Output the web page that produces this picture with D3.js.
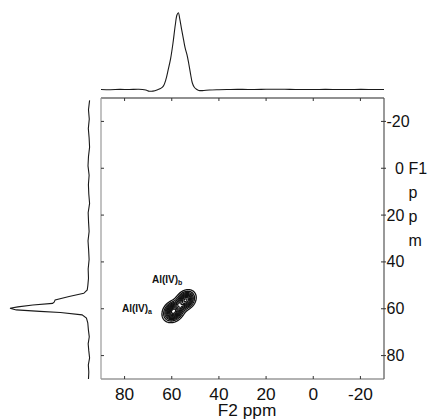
<!DOCTYPE html>
<meta charset="utf-8">
<style>
body { margin: 0; background: #fff; }
text { font-family: "Liberation Sans", Arial, Helvetica, sans-serif; fill: #111; }
.spec { fill: none; stroke: #1a1a1a; stroke-width: 1.1; }
.contour { fill: none; stroke: #111; stroke-width: 1.3; }
.lbl { font-weight: bold; font-size: 10px; }
.ax { font-size: 16px; }
</style>
<body>
<script src="https://d3js.org/d3.v7.min.js"></script>
<script>

// axis ticks (ppm)
var f2Ticks = [80, 60, 40, 20, 0, -20];
var f1Ticks = [-20, 0, 20, 40, 60, 80];

// F2 projection (top): ppm, normalised intensity
var topPpm = [90, 86, 82, 78, 74, 71, 69.5, 68, 66, 64.5, 63.5, 62.5, 61.5, 60.5, 59.5, 58.5, 57.8, 57.2, 56.6, 55.8,
              55, 54.3, 53.5, 52.8, 52, 51.3, 50.5, 49.5, 48.5, 47, 44, 40, 35, 30, 25, 20, 15, 10, 5, 0,
              -5, -10, -15, -20, -25, -30];
var topInt = [0.003, 0.0, 0.004, 0.002, 0.006, -0.005, -0.02, -0.018, 0.0, 0.02, 0.05, 0.13, 0.26, 0.40, 0.6, 0.84, 0.97, 1.0, 0.92, 0.78,
              0.65, 0.54, 0.45, 0.34, 0.2, 0.09, 0.035, 0.005, -0.01, -0.012, -0.004, 0.0, 0.003, 0.004, 0.003, 0.005, 0.006, 0.004, 0.003, 0.002,
              0.004, 0.003, 0.002, 0.004, 0.003, 0.002];

// F1 projection (left): ppm, normalised intensity
var leftPpm = [-29, -25, -21, -17, -13, -9, -5, -1, 3, 7, 11, 15, 19, 23, 27, 31, 35, 39, 43, 47,
               50, 52, 53.4, 54.8, 56.2, 57.2, 57.7, 58.4, 59.2, 59.8, 60.5, 61.1, 61.6, 62.6, 64, 66, 69, 72, 75, 78,
               81, 84, 87, 90];
var leftInt = [-0.01, 0.004, -0.006, 0.006, -0.004, -0.01, 0.004, 0.01, -0.004, 0.005, 0.0, -0.01, 0.008, 0.003, -0.004, 0.01, 0.002, -0.004, 0.008, 0.004,
               0.012, 0.02, 0.064, 0.25, 0.427, 0.44, 0.46, 0.71, 0.9, 1.0, 0.92, 0.62, 0.36, 0.085, 0.03, 0.013, 0.005, -0.006, 0.008, 0.0,
               -0.01, 0.006, 0.0, 0.004];

// 2D cross peaks: F2 centre, F1 centre, amplitude, widths (ppm) along and across the diagonal
var peakNames = ["Al(IV)a", "Al(IV)b"];
var peakF2 = [59.2, 54.0];
var peakF1 = [61.0, 56.2];
var peakAmp = [1.0, 0.85];
var peakWAlong = [2.4, 2.3];
var peakWAcross = [1.9, 1.8];
var contourLevels = [0.08, 0.16, 0.25, 0.34, 0.43, 0.52, 0.62, 0.72, 0.82, 0.92];

var width = 438, height = 419;

var svg = d3.select("body").append("svg")
    .attr("width", width)
    .attr("height", height);

var x = d3.scaleLinear().domain([90, -30]).range([101, 384]);
var y = d3.scaleLinear().domain([-30, 90]).range([98, 379]);

// projection intensity scales
var topY = d3.scaleLinear().domain([0, 1]).range([89.7, 12.7]);
var leftX = d3.scaleLinear().domain([0, 1]).range([88.8, 10]);

// frame, each side a slightly different grey like the scan
var x0 = x.range()[0], x1 = x.range()[1], y0 = y.range()[0], y1 = y.range()[1];
var sides = [
    [x0, y0, x1, y0, "#222"],
    [x1, y0, x1, y1, "#555"],
    [x0, y1, x1, y1, "#666"],
    [x0, y0, x0, y1, "#999"]
];
svg.selectAll("line.frame")
    .data(sides)
  .enter().append("line")
    .attr("class", "frame")
    .attr("x1", d => d[0]).attr("y1", d => d[1])
    .attr("x2", d => d[2]).attr("y2", d => d[3])
    .attr("stroke", d => d[4])
    .attr("stroke-width", 1.2);

// ticks: top, bottom, left inward; right crosses the frame
svg.selectAll("line.tt")
    .data(f2Ticks)
  .enter().append("line")
    .attr("x1", d => x(d)).attr("x2", d => x(d))
    .attr("y1", y0).attr("y2", y0 + 3)
    .attr("stroke", "#333");
svg.selectAll("line.bt")
    .data(f2Ticks)
  .enter().append("line")
    .attr("x1", d => x(d)).attr("x2", d => x(d))
    .attr("y1", y1).attr("y2", y1 - 3)
    .attr("stroke", "#333");
svg.selectAll("line.lt")
    .data(f1Ticks)
  .enter().append("line")
    .attr("y1", d => y(d)).attr("y2", d => y(d))
    .attr("x1", x0).attr("x2", x0 + 3)
    .attr("stroke", "#333");
svg.selectAll("line.rt")
    .data(f1Ticks)
  .enter().append("line")
    .attr("y1", d => y(d)).attr("y2", d => y(d))
    .attr("x1", x1 - 3).attr("x2", x1 + 2)
    .attr("stroke", "#333");

// bottom lettering in the scan is a little wider than Liberation Sans
function place(sel, fx, fy, sx) {
    sel.attr("transform", (d, i) => "translate(" + fx(d, i) + "," + fy(d, i) + ") scale(" + sx + ",1)");
}

svg.selectAll("text.xl")
    .data(f2Ticks)
  .enter().append("text")
    .attr("class", "ax")
    .attr("text-anchor", "middle")
    .call(place, d => x(d), () => 399.5, 1.08)
    .text(d => d);

svg.selectAll("text.yl")
    .data(f1Ticks)
  .enter().append("text")
    .attr("class", "ax")
    .call(place, d => d === 0 ? 395 : 386.5, d => y(d) + 5.5, 1)
    .text(d => d);

svg.append("text")
    .datum("F2 ppm")
    .attr("class", "ax")
    .attr("text-anchor", "middle")
    .call(place, () => 247, () => 416, 1.08)
    .text(d => d);

var f1Title = ["F1", "p", "p", "m"];
svg.selectAll("text.f1")
    .data(f1Title)
  .enter().append("text")
    .attr("class", "ax")
    .call(place, () => 408.5, (d, i) => 174 + i * 24, 1)
    .text(d => d);

// projections
var topLine = d3.line()
    .x((d, i) => x(topPpm[i]))
    .y(d => topY(d))
    .curve(d3.curveCatmullRom);
svg.append("path")
    .attr("class", "spec")
    .attr("d", topLine(topInt));

var leftLine = d3.line()
    .x(d => leftX(d))
    .y((d, i) => y(leftPpm[i]));
svg.append("path")
    .attr("class", "spec")
    .attr("d", leftLine(leftInt));

// contour map of the two cross peaks
var step = 0.2, f2Lo = 40, f1Lo = 42, n = 131, m = 131;
var grid = new Array(n * m);
for (var j = 0; j < m; j++) {
    for (var i = 0; i < n; i++) {
        var f2 = f2Lo + i * step, f1 = f1Lo + j * step, v = 0;
        peakF2.forEach(function(c, k) {
            var du = (f2 - c), dv = (f1 - peakF1[k]);
            var a = (du + dv) / Math.SQRT2, b = (du - dv) / Math.SQRT2;
            v += peakAmp[k] * Math.exp(-(a * a) / (2 * peakWAlong[k] * peakWAlong[k]) - (b * b) / (2 * peakWAcross[k] * peakWAcross[k]));
        });
        grid[j * n + i] = v;
    }
}
var vmax = d3.max(grid);
grid = grid.map(v => v / vmax);

var contours = d3.contours().size([n, m]).thresholds(contourLevels)(grid);
var proj = d3.geoTransform({
    point: function(px, py) {
        this.stream.point(x(f2Lo + px * step), y(f1Lo + py * step));
    }
});
svg.append("g")
  .selectAll("path")
    .data(contours)
  .enter().append("path")
    .attr("class", "contour")
    .attr("d", d3.geoPath(proj));

// peak labels
var lblPos = [[122, 311.5], [152, 283]];
var lbl = svg.selectAll("text.lbl")
    .data(peakNames)
  .enter().append("text")
    .attr("class", "lbl")
    .attr("x", (d, i) => lblPos[i][0])
    .attr("y", (d, i) => lblPos[i][1]);
lbl.append("tspan").text(d => d.slice(0, 6));
lbl.append("tspan")
    .attr("dy", 2)
    .style("font-size", "7px")
    .text(d => d.slice(6));

</script>
